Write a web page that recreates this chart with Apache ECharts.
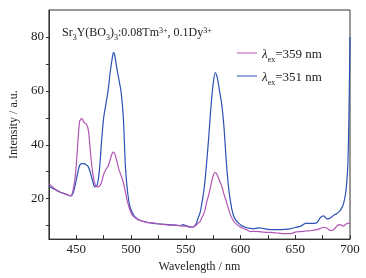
<!DOCTYPE html>
<html>
<head>
<meta charset="utf-8">
<script src="https://cdn.jsdelivr.net/npm/echarts@6/dist/echarts.min.js"></script>
<style>
  html, body { margin: 0; padding: 0; background: #fff; }
  #chart { width: 366px; height: 278px; }
</style>
</head>
<body>
<div id="chart"></div>
<script>
// wavelength (nm), shared by both spectra
const wavelength = [
  425, 430, 435, 440, 445, 447, 449, 451, 453, 455, 457, 459, 461, 463, 465, 467, 469, 471, 473, 475,
  477, 479, 481, 483, 484, 485, 487, 489, 491, 493, 495, 497, 499, 501, 503, 506, 510, 515, 520, 525,
  530, 535, 540, 545, 548, 550, 553, 556, 559, 561, 563, 565, 567, 569, 571, 573, 575, 577, 579, 581,
  583, 585, 587, 589, 591, 593, 595, 598, 601, 605, 609, 613, 617, 621, 625, 630, 635, 640, 645, 650,
  655, 660, 665, 670, 673, 676, 679, 682, 685, 688, 690, 692, 694, 696, 697, 698, 699, 700
]
// excitation 359 nm
const ex359 = [
  25.6, 23.8, 22.5, 21.7, 21.1, 23, 28, 38, 48.5, 49.8, 48.3, 47.8, 45.5, 37, 29.5, 25.6, 24.4, 24.6, 26, 29,
  30.8, 32, 34.5, 37, 37.3, 36.8, 34, 30.8, 28.5, 26, 22.2, 18.5, 15.8, 14, 13.2, 12.3, 11.7, 11.1, 11.0, 10.6,
  10.4, 10.2, 10.2, 10.0, 9.8, 9.8, 9.5, 9.4, 10.0, 10.8, 11.5, 13.2, 15, 18.5, 21.5, 25, 28.5, 29.8, 28.5, 26.5,
  24.5, 21.5, 19, 16.2, 13.8, 12.2, 11, 10, 9.2, 8.6, 7.8, 7.9, 7.8, 7.6, 7.5, 7.4, 7.2, 7.0, 7.0, 7.6,
  7.8, 8.0, 8.2, 8.5, 9.0, 9.4, 9.0, 8.2, 8.5, 9.8, 10.4, 10.2, 9.8, 10.5, 10.7, 10.8, 10.9, 11.0
]
// excitation 351 nm
const ex351 = [
  24.5, 23.5, 22.5, 21.8, 21.0, 22, 25, 29, 32.3, 33, 33, 32.6, 31.8, 29.5, 26.5, 24.4, 25.0, 30, 40.8, 50,
  55, 60, 67, 72.5, 74.2, 73.5, 68.5, 64, 59.5, 50, 31, 22, 17, 15, 13.5, 12.5, 11.7, 11.2, 10.8, 10.7,
  10.5, 10.3, 10.2, 10.0, 10.4, 10.0, 9.6, 9.4, 10.3, 12.5, 14.7, 19, 24.5, 33, 43, 54, 62.5, 66.8, 64.5, 59.5,
  54.5, 46, 34, 24.5, 18.5, 14.5, 12.5, 11, 10, 9.3, 9.0, 8.9, 9.2, 8.9, 8.6, 8.5, 8.5, 8.6, 8.8, 9.3,
  9.8, 10.9, 10.8, 11.2, 13, 13.6, 12.5, 12.8, 13.8, 14.5, 15.2, 16.2, 18, 22, 26, 32, 50, 80
]
const xTicks = [425, 450, 475, 500, 525, 550, 575, 600, 625, 650, 675, 700]
const xLabels = [450, 500, 550, 600, 650, 700]
const yTicks = [10, 20, 30, 40, 50, 60, 70, 80]
const yLabels = [20, 40, 60, 80]

const seriesNames = ['λex=359 nm', 'λex=351 nm']
const colors = ['#b355b3', '#2c50b4']
const serif = 'Liberation Serif'

const chart = echarts.init(document.getElementById('chart'))

const pair = (ys) => wavelength.map((w, i) => [w, ys[i]])

const option = {
  animation: false,
  color: colors,
  textStyle: { fontFamily: serif },
  grid: {
    left: 39,
    right: 16,
    top: 10,
    bottom: 35,
    show: true,
    borderColor: '#333',
    borderWidth: 1
  },
  legend: {
    left: 232,
    top: 43,
    orient: 'vertical',
    itemWidth: 20,
    itemHeight: 10,
    itemGap: 7,
    icon: 'path://M0,4.5L20,4.5L20,5.5L0,5.5Z',
    data: seriesNames,
    formatter: (name) => {
      const n = name.split('=')[1]
      return '{l|λ}{s|ex}{t|=' + n + '}'
    },
    textStyle: {
      rich: {
        l: { fontFamily: serif, fontStyle: 'italic', fontSize: 13, color: '#222', lineHeight: 16, verticalAlign: 'bottom' },
        s: { fontFamily: serif, fontSize: 8, color: '#222', lineHeight: 8, verticalAlign: 'bottom', padding: [0, 0, -3, 0] },
        t: { fontFamily: serif, fontSize: 13, color: '#222', lineHeight: 16, verticalAlign: 'bottom' }
      }
    }
  },
  xAxis: {
    type: 'value',
    min: 425,
    max: 700,
    name: 'Wavelength / nm',
    nameLocation: 'middle',
    nameGap: 17,
    nameTextStyle: { fontFamily: serif, fontSize: 12, color: '#222' },
    axisLine: { lineStyle: { color: '#333', width: 1 } },
    axisTick: { inside: true, length: 4, customValues: xTicks, lineStyle: { color: '#333' } },
    axisLabel: { customValues: xLabels, margin: 4, fontFamily: serif, fontSize: 13, color: '#222' },
    splitLine: { show: false }
  },
  yAxis: {
    type: 'value',
    min: 5,
    max: 90,
    name: 'Intensity / a.u.',
    nameLocation: 'middle',
    nameGap: 21,
    nameTextStyle: { fontFamily: serif, fontSize: 12, color: '#222' },
    axisLine: { show: true, lineStyle: { color: '#333', width: 1 } },
    axisTick: { show: true, inside: false, length: 3, customValues: yTicks, lineStyle: { color: '#333' } },
    axisLabel: { customValues: yLabels, margin: 5, fontFamily: serif, fontSize: 13, color: '#222' },
    splitLine: { show: false }
  },
  graphic: [
    {
      type: 'text',
      left: 62,
      top: 27,
      style: {
        text: 'Sr{s|3}Y(BO{s|3}){s|3}:0.08Tm{p|3+}, 0.1Dy{p|3+}',
        font: '12px ' + serif,
        fill: '#222',
        rich: {
          s: { fontFamily: serif, fontSize: 8, lineHeight: 8, verticalAlign: 'bottom', padding: [0, 0, -3, 0], fill: '#222' },
          p: { fontFamily: serif, fontSize: 8, lineHeight: 8, verticalAlign: 'top', fill: '#222' }
        }
      }
    }
  ],
  series: [
    {
      name: seriesNames[0],
      type: 'line',
      data: pair(ex359),
      symbol: 'none',
      smooth: 0.3,
      lineStyle: { width: 1.2, color: colors[0] },
      z: 3
    },
    {
      name: seriesNames[1],
      type: 'line',
      data: pair(ex351),
      symbol: 'none',
      smooth: 0.3,
      lineStyle: { width: 1.2, color: colors[1] },
      z: 2
    }
  ]
}

chart.setOption(option)
</script>
</body>
</html>
